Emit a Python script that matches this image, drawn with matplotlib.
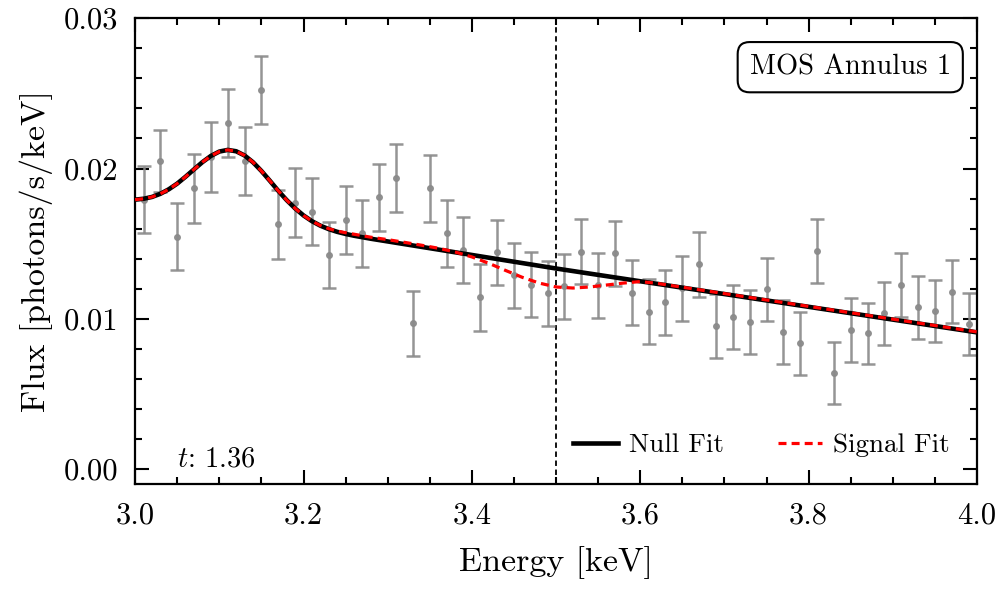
import matplotlib
matplotlib.use("Agg")
import matplotlib.pyplot as plt
from matplotlib.ticker import MultipleLocator

# ---- data ----
energy = [3.01, 3.03, 3.05, 3.07, 3.09, 3.11, 3.13, 3.15, 3.17, 3.19,
          3.21, 3.23, 3.25, 3.27, 3.29, 3.31, 3.33, 3.35, 3.37, 3.39,
          3.41, 3.43, 3.45, 3.47, 3.49, 3.51, 3.53, 3.55, 3.57, 3.59,
          3.61, 3.63, 3.65, 3.67, 3.69, 3.71, 3.73, 3.75, 3.77, 3.79,
          3.81, 3.83, 3.85, 3.87, 3.89, 3.91, 3.93, 3.95, 3.97, 3.99]
flux = [0.01794, 0.02051, 0.01546, 0.01868, 0.02074, 0.02304, 0.02051, 0.02522, 0.01628, 0.01774,
        0.01712, 0.01424, 0.01657, 0.01568, 0.01808, 0.01938, 0.00969, 0.01868, 0.01568, 0.01457,
        0.01142, 0.01442, 0.01291, 0.01226, 0.01169, 0.01218, 0.01446, 0.01224, 0.01435, 0.01173,
        0.01047, 0.01109, 0.01202, 0.01362, 0.00953, 0.01013, 0.00978, 0.01196, 0.00914, 0.00836,
        0.01452, 0.00641, 0.00925, 0.00903, 0.01036, 0.01224, 0.01076, 0.01053, 0.01180, 0.00965]
flux_err = [0.00224, 0.00205, 0.00222, 0.00228, 0.00233, 0.00227, 0.00227, 0.00227, 0.00227, 0.00227,
            0.00222, 0.00222, 0.00224, 0.00224, 0.00224, 0.00227, 0.00214, 0.00222, 0.00220, 0.00220,
            0.00220, 0.00218, 0.00216, 0.00216, 0.00216, 0.00216, 0.00215, 0.00216, 0.00216, 0.00216,
            0.00216, 0.00216, 0.00216, 0.00215, 0.00213, 0.00211, 0.00213, 0.00211, 0.00213, 0.00210,
            0.00214, 0.00207, 0.00212, 0.00205, 0.00211, 0.00213, 0.00211, 0.00207, 0.00211, 0.00205]

model_energy = [3.00, 3.01, 3.02, 3.03, 3.04, 3.05, 3.06, 3.07, 3.08, 3.09,
                3.10, 3.11, 3.12, 3.13, 3.14, 3.15, 3.16, 3.17, 3.18, 3.19,
                3.20, 3.21, 3.22, 3.23, 3.24, 3.25, 3.26, 3.27, 3.28, 3.29,
                3.30, 3.32, 3.34, 3.36, 3.38, 3.40, 3.42, 3.44, 3.46, 3.48,
                3.50, 3.52, 3.54, 3.56, 3.58, 3.60, 3.62, 3.64, 3.66, 3.68,
                3.70, 3.72, 3.74, 3.76, 3.78, 3.80, 3.82, 3.84, 3.86, 3.88,
                3.90, 3.92, 3.94, 3.96, 3.98, 4.00]
null_fit = [0.01793, 0.01799, 0.01811, 0.01832, 0.01862, 0.01900, 0.01946, 0.01995, 0.02043, 0.02084,
            0.02113, 0.02124, 0.02115, 0.02087, 0.02042, 0.01984, 0.01919, 0.01852, 0.01790, 0.01735,
            0.01688, 0.01650, 0.01620, 0.01597, 0.01579, 0.01565, 0.01553, 0.01543, 0.01533, 0.01524,
            0.01515, 0.01497, 0.01479, 0.01461, 0.01443, 0.01425, 0.01407, 0.01389, 0.01371, 0.01353,
            0.01335, 0.01318, 0.01301, 0.01284, 0.01267, 0.01250, 0.01233, 0.01216, 0.01199, 0.01182,
            0.01165, 0.01148, 0.01131, 0.01114, 0.01097, 0.01080, 0.01063, 0.01046, 0.01029, 0.01012,
            0.00995, 0.00978, 0.00961, 0.00944, 0.00927, 0.00910]
signal_fit = [0.01793, 0.01799, 0.01811, 0.01832, 0.01862, 0.01900, 0.01946, 0.01995, 0.02043, 0.02084,
              0.02113, 0.02124, 0.02115, 0.02087, 0.02042, 0.01984, 0.01919, 0.01852, 0.01790, 0.01735,
              0.01688, 0.01650, 0.01621, 0.01600, 0.01584, 0.01573, 0.01563, 0.01553, 0.01543, 0.01535,
              0.01527, 0.01509, 0.01490, 0.01470, 0.01445, 0.01412, 0.01370, 0.01322, 0.01276, 0.01238,
              0.01212, 0.01205, 0.01212, 0.01225, 0.01238, 0.01248, 0.01236, 0.01219, 0.01202, 0.01185,
              0.01168, 0.01151, 0.01134, 0.01117, 0.01100, 0.01083, 0.01066, 0.01049, 0.01032, 0.01015,
              0.00998, 0.00981, 0.00964, 0.00947, 0.00930, 0.00913]

line_energy = 3.5
t_stat = "1.36"
panel_label = "MOS Annulus 1"

# ---- style ----
plt.rcParams['font.family'] = ['cmr10', 'DejaVu Serif']
plt.rcParams['mathtext.fontset'] = 'cm'
plt.rcParams['axes.formatter.use_mathtext'] = True
plt.rcParams['axes.unicode_minus'] = False

fig = plt.figure(figsize=(10.01, 5.89), dpi=100)
ax = fig.add_axes([0.135, 0.178, 0.841, 0.791])

ax.errorbar(energy, flux, yerr=flux_err, fmt='o', color='#8a8a8a', ms=4,
            elinewidth=1.8, capsize=5, capthick=1.8, alpha=0.9, zorder=2)
ax.plot(model_energy, null_fit, color='black', lw=3.3, label='Null Fit', zorder=3)
ax.plot(model_energy, signal_fit, color='red', lw=2.3, ls=(0, (2.5, 1.6)),
        label='Signal Fit', zorder=4)
ax.axvline(line_energy, color='black', lw=1.3, ls=(0, (3, 2)), zorder=1)

ax.set_xlim(3.0, 4.0)
ax.set_ylim(-0.001, 0.03)
ax.xaxis.set_major_locator(MultipleLocator(0.2))
ax.xaxis.set_minor_locator(MultipleLocator(0.05))
ax.yaxis.set_major_locator(MultipleLocator(0.01))
ax.yaxis.set_minor_locator(MultipleLocator(0.002))
ax.xaxis.set_major_formatter(matplotlib.ticker.FormatStrFormatter('%.1f'))
ax.yaxis.set_major_formatter(matplotlib.ticker.FormatStrFormatter('%.2f'))
ax.tick_params(which='both', direction='in', top=True, right=True, labelsize=22, width=1.5)
ax.tick_params(which='major', length=10)
ax.tick_params(axis='x', which='major', pad=13)
ax.tick_params(axis='y', which='major', pad=12)
ax.tick_params(which='minor', length=5)
for s in ax.spines.values():
    s.set_linewidth(1.6)

ax.set_xlabel('Energy [keV]', fontsize=24.5, labelpad=12)
ax.set_ylabel('Flux [photons/s/keV]', fontsize=24.5, labelpad=8)

ax.text(0.969, 0.895, panel_label, transform=ax.transAxes, ha='right', va='center',
        fontsize=20.5, bbox=dict(boxstyle='round,pad=0.42', fc='white', ec='black', lw=1.5))
ax.text(0.05, 0.025, '$t$: ' + t_stat, transform=ax.transAxes, ha='left', va='bottom',
        fontsize=20.5)

ax.legend(loc='lower right', ncol=2, frameon=False, fontsize=19.5, handlelength=1.65,
          columnspacing=2.0, borderaxespad=0.6, handletextpad=0.4)

fig.savefig('out.png', dpi=100)
